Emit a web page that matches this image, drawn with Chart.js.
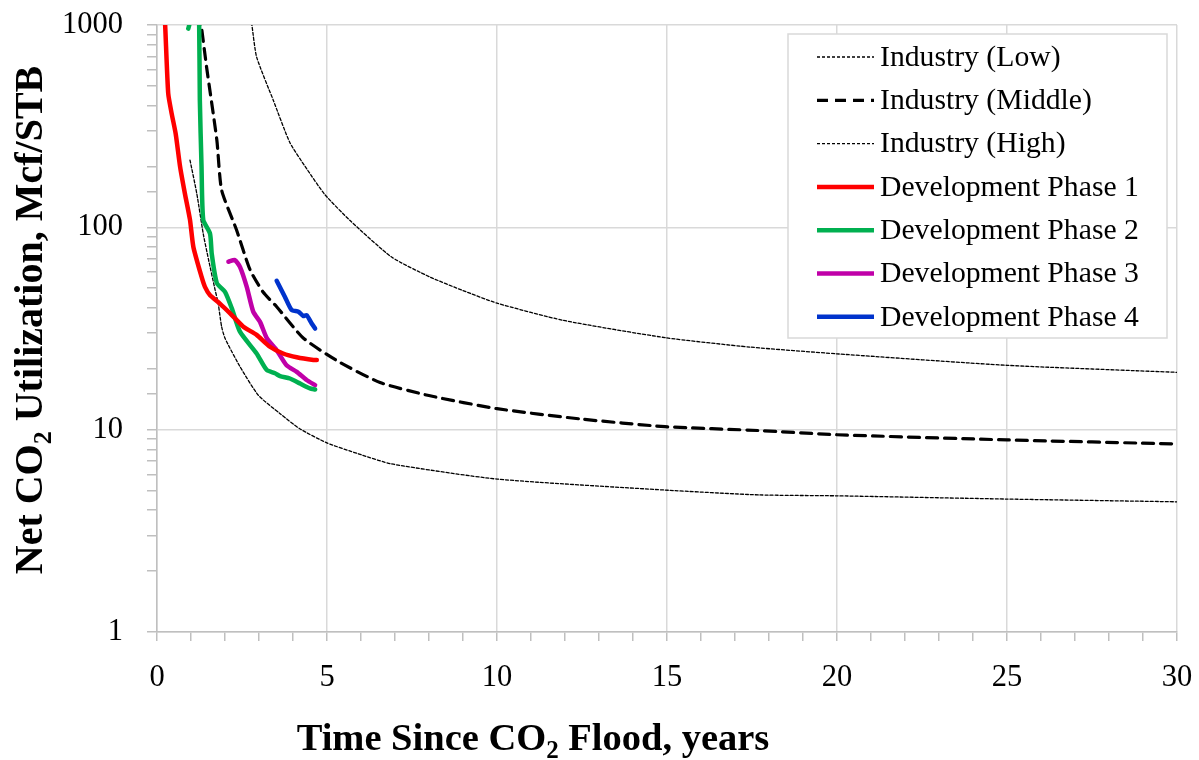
<!DOCTYPE html>
<html>
<head>
<meta charset="utf-8" />
<title>Net CO2 Utilization</title>
<script src="https://cdn.jsdelivr.net/npm/chart.js@4.4.0/dist/chart.umd.min.js"></script>
<style>
    body{ margin:0; background:#fff; }
    .chartBox{ width:1199px; height:760px; position:relative; }
</style>
</head>
<body>
<div class="chartBox">
    <canvas id="myChart"></canvas>
</div>
<script>
// values (years, Mcf/STB)
var lowX  = [2.72, 2.79, 2.93, 3.42, 3.91, 4.4, 4.94, 5.68, 6.9, 8.03, 9.0, 10, 11.95, 14.94, 17.44, 20, 25, 30];
var lowY  = [1150, 1000, 695, 425, 262, 195, 145, 108, 71.3, 56.8, 48.7, 42.2, 34.7, 28.5, 25.6, 23.7, 20.8, 19.2];

var midX  = [1.25, 1.3, 1.46, 1.76, 1.9, 2.34, 2.74, 3.12, 3.52, 4.3, 5.28, 6.56, 8.03, 10, 12.44, 14.94, 17.7, 20, 25, 30];
var midY  = [1150, 1000, 617, 270, 153, 97, 61.5, 47.9, 40.5, 28.4, 22, 17.1, 14.7, 12.7, 11.3, 10.35, 9.9, 9.44, 8.9, 8.5];

var highX = [0.97, 1.17, 1.36, 1.51, 1.71, 1.8, 1.9, 2.0, 2.44, 2.98, 3.62, 4.2, 5.0, 5.92, 6.9, 10, 14.94, 17.7, 20, 25, 30];
var highY = [215, 147, 93, 70, 49, 42, 32.3, 28.3, 20.5, 14.8, 12.0, 10.1, 8.6, 7.6, 6.77, 5.7, 5.03, 4.76, 4.71, 4.54, 4.4];

var p1X = [0.2, 0.24, 0.33, 0.43, 0.55, 0.68, 0.82, 0.97, 1.07, 1.31, 1.41, 1.56, 1.85, 2.15, 2.54, 2.93, 3.32, 3.71, 4.11, 4.6, 4.7];
var p1Y = [1300, 1000, 459, 366, 290, 199, 147, 109, 80, 57, 50.8, 46.2, 42, 37.6, 32.3, 29.4, 25.7, 23.8, 22.8, 22.1, 22.1];

var p2X = [0.92, 1.0, 1.1, 1.2, 1.24, 1.26, 1.31, 1.36, 1.56, 1.61, 1.76, 2.0, 2.2, 2.44, 2.93, 3.23, 3.47, 3.62, 3.91, 4.21, 4.5, 4.65];
var p2Y = [960, 1080, 1400, 1300, 1000, 425, 199, 109, 93, 74, 53, 48, 39.8, 30.5, 23.8, 19.7, 19.0, 18.4, 17.9, 16.9, 16.0, 15.8];

var p3X = [2.1, 2.29, 2.44, 2.64, 2.83, 3.03, 3.23, 3.52, 3.81, 4.11, 4.4, 4.65];
var p3Y = [67.6, 68.9, 63.8, 50.8, 38.3, 34.1, 28.3, 24.7, 20.8, 19.3, 17.6, 16.6];

var p4X = [3.52, 3.76, 3.96, 4.16, 4.3, 4.4, 4.55, 4.65];
var p4Y = [54.4, 45.4, 39.0, 38.3, 36.5, 36.8, 33.5, 31.6];

var seriesNames = ["Industry (Low)", "Industry (Middle)", "Industry (High)",
    "Development Phase 1", "Development Phase 2", "Development Phase 3", "Development Phase 4"];

function pts(xs, ys) {
    var out = [];
    for (var i = 0; i < xs.length; i++) out.push({x: xs[i], y: ys[i]});
    return out;
}

// draws text with "2" subscripts, parts = [[text, isSub], ...]
function drawRich(ctx, parts, x, y, size, align) {
    var big = "bold " + size + "px 'Liberation Serif', 'Times New Roman', serif";
    var small = "bold " + Math.round(size * 0.65) + "px 'Liberation Serif', 'Times New Roman', serif";
    var total = 0;
    parts.forEach(function (p) {
        ctx.font = p[1] ? small : big;
        total += ctx.measureText(p[0]).width;
    });
    var cx = align === "center" ? x - total / 2 : x;
    ctx.textAlign = "left";
    ctx.textBaseline = "alphabetic";
    parts.forEach(function (p) {
        ctx.font = p[1] ? small : big;
        ctx.fillText(p[0], cx, p[1] ? y + size * 0.22 : y);
        cx += ctx.measureText(p[0]).width;
    });
}

var titlesPlugin = {
    id: "titles",
    afterDraw: function (chart) {
        var ctx = chart.ctx;
        ctx.save();
        ctx.fillStyle = "#000";
        drawRich(ctx, [["Time Since CO", false], ["2", true], [" Flood, years", false]], 533, 750, 38.5, "center");
        ctx.translate(42, 320);
        ctx.rotate(-Math.PI / 2);
        drawRich(ctx, [["Net CO", false], ["2", true], [" Utilization, Mcf/STB", false]], 0, 0, 40, "center");
        ctx.restore();
    }
};

var legendPlugin = {
    id: "boxLegend",
    afterDatasetsDraw: function (chart) {
        var ctx = chart.ctx;
        ctx.save();
        ctx.fillStyle = "#fff";
        ctx.strokeStyle = "#d9d9d9";
        ctx.lineWidth = 1.5;
        ctx.fillRect(788, 34, 379, 304);
        ctx.strokeRect(788, 34, 379, 304);
        chart.data.datasets.forEach(function (ds, i) {
            var y = 57 + i * 43.3;
            ctx.beginPath();
            ctx.setLineDash(ds.borderDash || []);
            ctx.strokeStyle = ds.borderColor;
            ctx.lineWidth = ds.borderWidth;
            ctx.moveTo(817, y);
            ctx.lineTo(874, y);
            ctx.stroke();
            ctx.setLineDash([]);
            ctx.fillStyle = "#000";
            ctx.font = "29.7px 'Liberation Serif', 'Times New Roman', serif";
            ctx.textAlign = "left";
            ctx.textBaseline = "middle";
            ctx.fillText(ds.label, 880, y + 1);
        });
        ctx.restore();
    }
};

var ctx = document.getElementById("myChart").getContext("2d");
var chart = new Chart(ctx, {
    type: "line",
    data: {
        datasets: [
            {label: seriesNames[0], data: pts(lowX, lowY), borderColor: "#000", borderWidth: 1.3, borderDash: [3, 2], order: 2},
            {label: seriesNames[1], data: pts(midX, midY), borderColor: "#000", borderWidth: 3.2, borderDash: [11, 7], order: 2},
            {label: seriesNames[2], data: pts(highX, highY), borderColor: "#000", borderWidth: 1.3, borderDash: [3, 2], order: 2},
            {label: seriesNames[3], data: pts(p1X, p1Y), borderColor: "#ff0000", borderWidth: 4.5, order: 1},
            {label: seriesNames[4], data: pts(p2X, p2Y), borderColor: "#00b050", borderWidth: 4.5, order: 1},
            {label: seriesNames[5], data: pts(p3X, p3Y), borderColor: "#c000a8", borderWidth: 4.5, order: 1},
            {label: seriesNames[6], data: pts(p4X, p4Y), borderColor: "#0033cc", borderWidth: 4.5, order: 1}
        ]
    },
    options: {
        responsive: true,
        maintainAspectRatio: false,
        animation: false,
        layout: { padding: { left: 0, top: 25, right: 22, bottom: 0 } },
        elements: {
            point: { radius: 0 },
            line: { tension: 0.2, borderCapStyle: "round", borderJoinStyle: "round", fill: false }
        },
        plugins: {
            legend: { display: false },
            tooltip: { enabled: false }
        },
        scales: {
            x: {
                type: "linear",
                min: 0,
                max: 30,
                afterFit: function (scale) {
                    scale.height = 128;
                    scale.paddingLeft = 0; scale.paddingRight = 0;
                    scale.paddingTop = 0; scale.paddingBottom = 0;
                },
                ticks: {
                    stepSize: 1,
                    autoSkip: false,
                    maxRotation: 0,
                    padding: 19,
                    color: "#000",
                    font: { family: "'Liberation Serif', 'Times New Roman', serif", size: 30.5 },
                    callback: function (v) { return v % 5 === 0 ? String(v) : ""; }
                },
                grid: {
                    color: function (c) { return c.tick && c.tick.value % 5 === 0 ? "#d9d9d9" : "rgba(0,0,0,0)"; },
                    tickColor: "#bfbfbf",
                    tickLength: 9,
                    lineWidth: 1.5
                },
                border: { color: "#bfbfbf", width: 1.5 }
            },
            y: {
                type: "logarithmic",
                min: 1,
                max: 1000,
                afterFit: function (scale) {
                    scale.width = 157;
                    scale.paddingLeft = 0; scale.paddingRight = 0;
                    scale.paddingTop = 0; scale.paddingBottom = 0;
                },
                ticks: {
                    autoSkip: false,
                    padding: 24,
                    color: "#000",
                    font: { family: "'Liberation Serif', 'Times New Roman', serif", size: 30.5 },
                    callback: function (v) {
                        var l = Math.log10(v);
                        return Math.abs(l - Math.round(l)) < 1e-9 ? String(v) : "";
                    }
                },
                grid: {
                    color: function (c) {
                        if (!c.tick) return "rgba(0,0,0,0)";
                        var l = Math.log10(c.tick.value);
                        return Math.abs(l - Math.round(l)) < 1e-9 ? "#d9d9d9" : "rgba(0,0,0,0)";
                    },
                    tickColor: "#bfbfbf",
                    tickLength: 10,
                    lineWidth: 1.5
                },
                border: { color: "#bfbfbf", width: 1.5 }
            }
        }
    },
    plugins: [legendPlugin, titlesPlugin]
});
</script>
</body>
</html>
